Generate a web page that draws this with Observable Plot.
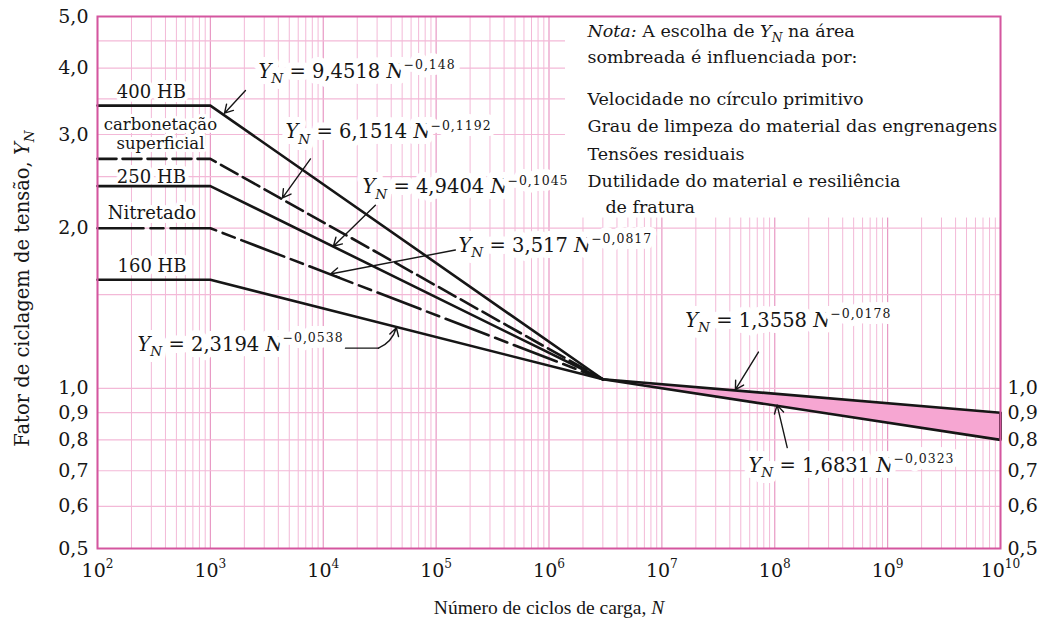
<!DOCTYPE html>
<html><head><meta charset="utf-8">
<script src="https://cdn.jsdelivr.net/npm/d3@7"></script>
<script src="https://cdn.jsdelivr.net/npm/@observablehq/plot@0.6"></script>
<style>body{margin:0;background:#fff}</style>
</head><body><div id="chart"></div>
<script>
// ---------- data ----------
const xDomain = [1e2, 1e10];
const yDomain = [0.5, 5.0];
const xTicks = [1e2, 1e3, 1e4, 1e5, 1e6, 1e7, 1e8, 1e9, 1e10];
const yTicksLeft = [5.0, 4.0, 3.0, 2.0, 1.0, 0.9, 0.8, 0.7, 0.6, 0.5];
const yTicksRight = [1.0, 0.9, 0.8, 0.7, 0.6, 0.5];
const yGrid = [0.5, 0.6, 0.7, 0.8, 0.9, 1.0, 1.5, 2.0, 2.5, 3.0, 3.5, 4.0, 4.5, 5.0];

const materials = ["400 HB", "carbonetação\nsuperficial", "250 HB", "Nitretado", "160 HB"];
const nStart = 1e2, nKnee = 1e3, nConv = 3e6, nEnd = 1e10;
const kneeY = [3.40, 2.70, 2.40, 2.00, 1.60];
const convY = 1.04;
const materialLabelN = [300, 361, 300, 304, 304];
const materialLabelY = [3.61, 3.02, 2.49, 2.13, 1.70];

const bandN = [3e6, 1e10];
const bandUpper = [1.04, 0.90];
const bandLower = [1.04, 0.80];

const eqText = [
  "*Y*_{*N*} = 9,4518 *N*^{−0,148}",
  "*Y*_{*N*} = 6,1514 *N*^{−0,1192}",
  "*Y*_{*N*} = 4,9404 *N*^{−0,1045}",
  "*Y*_{*N*} = 3,517 *N*^{−0,0817}",
  "*Y*_{*N*} = 2,3194 *N*^{−0,0538}",
  "*Y*_{*N*} = 1,3558 *N*^{−0,0178}",
  "*Y*_{*N*} = 1,6831 *N*^{−0,0323}"
];
const eqN = [2667, 4624, 22230, 157800, 226, 1.61e7, 5.84e7];
const eqY = [3.94, 3.03, 2.39, 1.855, 1.21, 1.34, 0.716];

const arrowFromN = [2046, 7710, 28970, 148000, 30830, 7.17e7, 1.29e8];
const arrowFromY = [3.63, 2.70, 2.21, 1.82, 1.19, 1.17, 0.774];
const arrowToN = [1334, 4355, 12300, 11590, 44460, 4.48e7, 1.05e8];
const arrowToY = [3.29, 2.28, 1.85, 1.64, 1.30, 0.995, 0.93];
const leaderN = [15740, 30830];
const leaderY = [1.19, 1.19];

const noteText = [
  "*Nota:* A escolha de *Y*_{*N*} na área",
  "sombreada é influenciada por:",
  "Velocidade no círculo primitivo",
  "Grau de limpeza do material das engrenagens",
  "Tensões residuais",
  "Dutilidade do material e resiliência",
  "de fratura"
];
const noteN = [2.19e6, 2.19e6, 2.19e6, 2.19e6, 2.19e6, 2.19e6, 3.16e6];
const noteY = [4.69, 4.19, 3.49, 3.11, 2.75, 2.45, 2.19];
const noteBox = [{x1: 1.4e6, x2: 1e10, y1: 2.09, y2: 5.0}];

const yLabel = "Fator de ciclagem de tensão, *Y*_{*N*}";
const xLabel = "Número de ciclos de carga, *N*";

// ---------- styles ----------
const ink = "#161616";
const gridMinor = "#f3b9d7";
const gridMajor = "#e898c4";
const frameColor = "#d4569f";
const bandFill = "#f6a6d2";
const dashes = [null, "19,6", null, "46,7,13,7", null];
const font = "'DejaVu Serif', serif";

// ---------- derived tables ----------
const lineRows = materials.map((m, i) => [
  {N: nStart, Y: kneeY[i]}, {N: nKnee, Y: kneeY[i]}, {N: nConv, Y: convY}
]);
const bandRows = bandN.map((n, i) => ({N: n, hi: bandUpper[i], lo: bandLower[i]}));
const eqRows = eqText.map((t, i) => ({t, N: eqN[i], Y: eqY[i]}));
const arrowRows = arrowFromN.map((n, i) => ({n1: n, y1: arrowFromY[i], n2: arrowToN[i], y2: arrowToY[i], i}));
const noteRows = noteText.map((t, i) => ({t, N: noteN[i], Y: noteY[i]}));
const matRows = materials.map((m, i) => ({t: m, N: materialLabelN[i], Y: materialLabelY[i], multi: m.includes("\n")}));
const leaderRows = leaderN.map((n, i) => ({N: n, Y: leaderY[i]}));

const allX = d3.scaleLog().domain(xDomain).ticks();
const majorX = allX.filter(v => Math.abs(Math.log10(v) - Math.round(Math.log10(v))) < 1e-9);
const minorX = allX.filter(v => !majorX.includes(v));

const halo = {fill: ink, stroke: "white", strokeWidth: 12, paintOrder: "stroke", strokeLinejoin: "round"};

const marks = [
  Plot.ruleX(minorX, {stroke: gridMinor, strokeWidth: 1}),
  Plot.ruleX(majorX, {stroke: gridMajor, strokeWidth: 1.2}),
  Plot.ruleY(yGrid, {stroke: gridMinor, strokeWidth: 1.2}),
  Plot.rect(noteBox, {x1: "x1", x2: "x2", y1: "y1", y2: "y2", fill: "white"}),
  Plot.text(matRows.filter(d => !d.multi), {x: "N", y: "Y", text: "t", fontSize: 18, ...halo, strokeWidth: 8}),
  Plot.text(matRows.filter(d => d.multi), {x: "N", y: "Y", text: "t", fontSize: 16.5, lineHeight: 1.15, ...halo, strokeWidth: 6}),
  Plot.text(eqRows, {x: "N", y: "Y", text: "t", textAnchor: "start", fontSize: 19.5, ...halo}),
  Plot.text(noteRows, {x: "N", y: "Y", text: "t", textAnchor: "start", fontSize: 17.5, fill: ink}),
  Plot.areaY(bandRows, {x: "N", y1: "lo", y2: "hi", fill: bandFill}),
  ...lineRows.map((rows, i) => Plot.line(rows, {x: "N", y: "Y", stroke: ink, strokeWidth: 2.6, strokeDasharray: dashes[i]})),
  Plot.line(bandRows, {x: "N", y: "hi", stroke: ink, strokeWidth: 2.6}),
  Plot.line(bandRows, {x: "N", y: "lo", stroke: ink, strokeWidth: 2.6}),
  Plot.ruleX([bandN[1]], {y1: bandLower[1], y2: bandUpper[1], stroke: ink, strokeWidth: 2.8}),
  Plot.line(leaderRows, {x: "N", y: "Y", stroke: ink, strokeWidth: 1.4}),
  Plot.arrow(arrowRows.filter(d => d.i !== 4), {x1: "n1", y1: "y1", x2: "n2", y2: "y2", stroke: ink, strokeWidth: 1.4, headLength: 10}),
  Plot.arrow(arrowRows.filter(d => d.i === 4), {x1: "n1", y1: "y1", x2: "n2", y2: "y2", stroke: ink, strokeWidth: 1.4, headLength: 10, bend: -25}),
  Plot.frame({stroke: frameColor, strokeWidth: 2}),
  Plot.axisX({ticks: xTicks, tickSize: 0, tickPadding: 15, fontSize: 19,
    tickFormat: d => `10^{${Math.round(Math.log10(d))}}`}),
  Plot.axisY({ticks: yTicksLeft, tickSize: 0, tickPadding: 9, fontSize: 19,
    tickFormat: d => d.toFixed(1).replace(".", ",")}),
  Plot.axisY({anchor: "right", ticks: yTicksRight, tickSize: 0, tickPadding: 7, fontSize: 19,
    tickFormat: d => d.toFixed(1).replace(".", ",")}),
  Plot.text([yLabel], {text: d => d, frameAnchor: "left", textAnchor: "middle", lineAnchor: "middle", dx: -75, dy: 6, rotate: -90, fontSize: 19.5, fill: ink}),
  Plot.text([xLabel], {text: d => d, frameAnchor: "bottom", textAnchor: "middle", lineAnchor: "middle", dy: 59, fontSize: 19.5, fontFamily: "'Liberation Serif', serif", fill: ink})
];

const chart = Plot.plot({
  width: 1049, height: 626,
  marginLeft: 97, marginRight: 49, marginTop: 16, marginBottom: 78,
  x: {type: "log", domain: xDomain, label: null},
  y: {type: "log", domain: yDomain, label: null},
  style: {fontFamily: font, fontSize: "17.5px", color: ink, background: "white"},
  marks
});
document.getElementById("chart").appendChild(chart);

// ---------- rich text (italic, sub/superscript) ----------
function parseRich(s) {
  const segs = [];
  let italic = false, i = 0;
  while (i < s.length) {
    const c = s[i];
    if (c === "*") { italic = !italic; i++; continue; }
    if ((c === "_" || c === "^") && s[i + 1] === "{") {
      const j = s.indexOf("}", i);
      const inner = s.slice(i + 2, j);
      segs.push({text: inner.replace(/\*/g, ""), italic: inner.includes("*"), shift: c === "_" ? "sub" : "sup"});
      i = j + 1; continue;
    }
    const last = segs[segs.length - 1];
    if (last && !last.shift && last.italic === italic) last.text += c;
    else segs.push({text: c, italic, shift: null});
    i++;
  }
  return segs;
}
const NS = "http://www.w3.org/2000/svg";
chart.querySelectorAll("text").forEach(el => {
  const s = el.textContent;
  if (!/[_^*]/.test(s)) return;
  const base = parseFloat(getComputedStyle(el).fontSize) || 17.5;
  const segs = parseRich(s);
  while (el.firstChild) el.removeChild(el.firstChild);
  let cur = 0;
  for (const seg of segs) {
    const t = document.createElementNS(NS, "tspan");
    const target = seg.shift === "sup" ? -0.45 * base : seg.shift === "sub" ? 0.28 * base : 0;
    if (target !== cur) t.setAttribute("dy", (target - cur).toFixed(2));
    cur = target;
    if (seg.shift) t.setAttribute("font-size", (seg.shift === "sup" ? 0.64 : 0.7) * base);
    if (seg.shift === "sup" && seg.text.length > 2) t.setAttribute("letter-spacing", "1");
    if (seg.italic) t.setAttribute("font-style", "italic");
    t.textContent = seg.text;
    el.appendChild(t);
  }
});
</script></body></html>
